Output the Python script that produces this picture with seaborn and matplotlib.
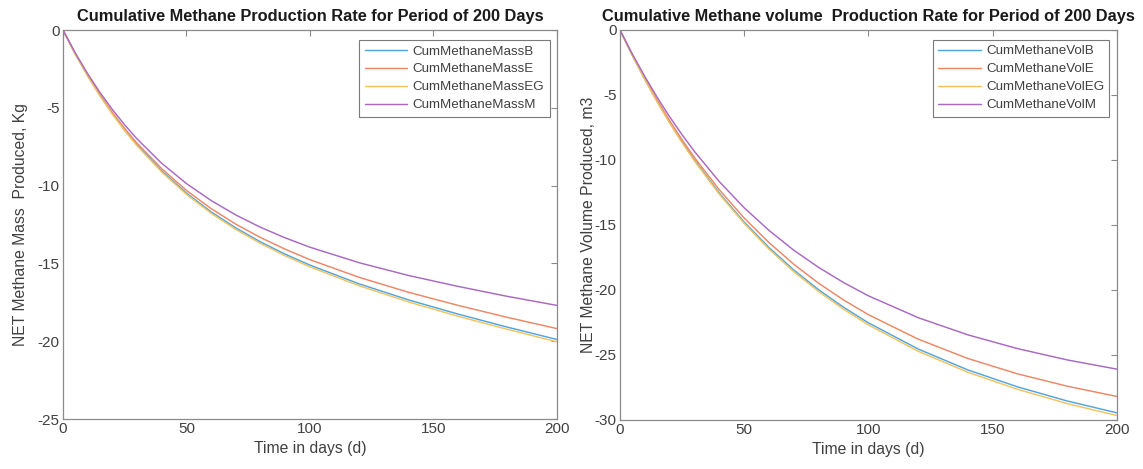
import numpy as np
import pandas as pd
import matplotlib
matplotlib.use("Agg")
import matplotlib.pyplot as plt
import seaborn as sns

# ---- data ----
days = [0, 5, 10, 15, 20, 25, 30, 40, 50, 60, 70, 80, 90, 100, 120, 140, 160, 180, 200]

mass_B  = [0, -1.54, -2.94, -4.21, -5.37, -6.42, -7.38, -9.06, -10.48, -11.69, -12.72, -13.62, -14.41, -15.11, -16.32, -17.35, -18.26, -19.10, -19.89]
mass_E  = [0, -1.53, -2.91, -4.17, -5.30, -6.33, -7.28, -8.92, -10.31, -11.48, -12.48, -13.34, -14.09, -14.76, -15.90, -16.86, -17.70, -18.47, -19.19]
mass_EG = [0, -1.55, -2.96, -4.24, -5.41, -6.47, -7.44, -9.13, -10.56, -11.78, -12.82, -13.72, -14.52, -15.22, -16.44, -17.48, -18.40, -19.24, -20.04]
mass_M  = [0, -1.48, -2.81, -4.02, -5.11, -6.10, -7.00, -8.57, -9.87, -10.96, -11.89, -12.68, -13.36, -13.96, -14.96, -15.78, -16.48, -17.12, -17.70]

vol_B  = [0, -1.96, -3.79, -5.51, -7.11, -8.61, -10.01, -12.55, -14.78, -16.74, -18.47, -19.99, -21.33, -22.53, -24.54, -26.15, -27.45, -28.54, -29.45]
vol_E  = [0, -1.93, -3.73, -5.41, -6.98, -8.45, -9.82, -12.30, -14.47, -16.36, -18.03, -19.49, -20.77, -21.90, -23.78, -25.27, -26.45, -27.40, -28.19]
vol_EG = [0, -1.97, -3.82, -5.55, -7.16, -8.67, -10.08, -12.64, -14.88, -16.86, -18.60, -20.13, -21.48, -22.69, -24.71, -26.33, -27.64, -28.74, -29.66]
vol_M  = [0, -1.86, -3.58, -5.19, -6.68, -8.06, -9.35, -11.67, -13.68, -15.42, -16.95, -18.27, -19.43, -20.45, -22.13, -23.45, -24.51, -25.38, -26.09]

mass_names = ["CumMethaneMassB", "CumMethaneMassE", "CumMethaneMassEG", "CumMethaneMassM"]
vol_names = ["CumMethaneVolB", "CumMethaneVolE", "CumMethaneVolEG", "CumMethaneVolM"]

mass_title = "Cumulative Methane Production Rate for Period of 200 Days"
vol_title = "Cumulative Methane volume  Production Rate for Period of 200 Days"
xlabel = "Time in days (d)"
mass_ylabel = "NET Methane Mass  Produced, Kg"
vol_ylabel = "NET Methane Volume Produced, m3"

xticks = [0, 50, 100, 150, 200]
mass_yticks = [0, -5, -10, -15, -20, -25]
vol_yticks = [0, -5, -10, -15, -20, -25, -30]

colors = ["#52a5dc", "#ec8666", "#f2c35e", "#a968c2"]

def long_df(names, series):
    rows = []
    for n, s in zip(names, series):
        for d, v in zip(days, s):
            rows.append({"day": d, "value": v, "series": n})
    return pd.DataFrame(rows)

df_mass = long_df(mass_names, [mass_B, mass_E, mass_EG, mass_M])
df_vol = long_df(vol_names, [vol_B, vol_E, vol_EG, vol_M])

sns.set_style("white")
plt.rcParams["font.family"] = ["Liberation Sans", "DejaVu Sans"]
plt.rcParams["axes.unicode_minus"] = False

fig = plt.figure(figsize=(11.43, 4.69), dpi=100)
ax1 = fig.add_axes([0.0551, 0.1066, 0.4322, 0.8294])
ax2 = fig.add_axes([0.5424, 0.1045, 0.4348, 0.8316])

txt = "#404040"
spine = "#8a8a8a"

def style(ax, df, names, title, ylabel, ylim, yticks, ypad):
    sns.lineplot(data=df, x="day", y="value", hue="series", hue_order=names,
                 palette=colors, linewidth=1.05, ax=ax, legend=True)
    ax.set_xlim(0, 200)
    ax.set_ylim(*ylim)
    ax.set_xticks(xticks)
    ax.set_yticks(yticks)
    ax.set_xlabel(xlabel, fontsize=11.3, color=txt, labelpad=3)
    ax.set_ylabel(ylabel, fontsize=11.3, color=txt, labelpad=ypad)
    ax.set_title(title, fontsize=11.8, fontweight="bold", color="#1a1a1a", pad=6.5)
    for s in ax.spines.values():
        s.set_color(spine)
        s.set_linewidth(0.9)
    ax.tick_params(direction="in", length=4, width=0.8, color=spine,
                   labelcolor=txt, labelsize=11, top=True, right=True, pad=2.5)
    leg = ax.legend(loc="upper right", bbox_to_anchor=(0.993, 0.985),
                    fontsize=9.6, frameon=True, fancybox=False, framealpha=1,
                    edgecolor="#7a7a7a", borderpad=0.4, labelspacing=0.42,
                    handlelength=3.2, handletextpad=0.4, borderaxespad=0.3)
    leg.get_frame().set_linewidth(0.8)
    for t in leg.get_texts():
        t.set_color(txt)

style(ax1, df_mass, mass_names, mass_title, mass_ylabel, (-25, 0), mass_yticks, 7)
style(ax2, df_vol, vol_names, vol_title, vol_ylabel, (-30, 0), vol_yticks, -1)

fig.savefig("out.png", dpi=100)
